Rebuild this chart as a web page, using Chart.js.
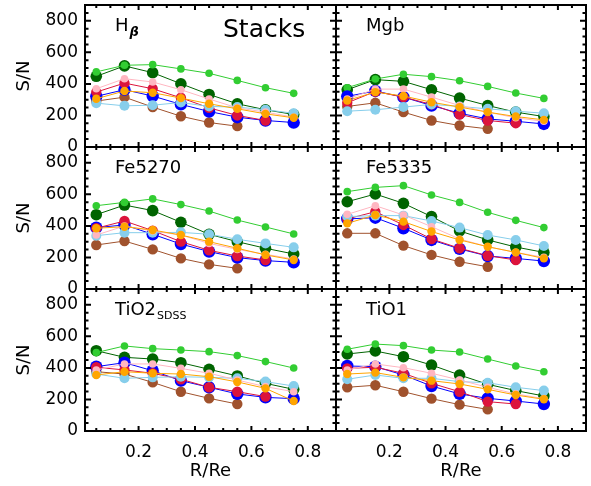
<!DOCTYPE html>
<html>
<head>
<meta charset="utf-8">
<script src="https://cdn.jsdelivr.net/npm/chart.js@4.4.1/dist/chart.umd.min.js"></script>
<style>
  html, body { margin: 0; padding: 0; background: #fff; }
  #wrap { position: relative; width: 591px; height: 486px; }
  #wrap canvas { position: absolute; left: 0; top: 0; }
</style>
</head>
<body>
<div id="wrap"></div>
<script>
// --- Données ---
const R = [0.05, 0.15, 0.25, 0.35, 0.45, 0.55, 0.65, 0.75];
const X_TICKS = [0.2, 0.4, 0.6, 0.8];
const Y_TICKS = [0, 200, 400, 600, 800];

// ordre des panneaux : Hbeta, Mgb, Fe5270, Fe5335, TiO2sdss, TiO1
const SN_LGREEN = [
  [476, 518, 522, 495, 467, 422, 376, 340],
  [376, 431, 461, 446, 420, 384, 342, 308],
  [528, 549, 571, 535, 494, 437, 393, 349],
  [617, 644, 655, 596, 549, 486, 435, 389],
  [497, 539, 522, 513, 503, 478, 440, 399],
  [518, 551, 541, 513, 501, 456, 412, 376]
];
const SN_DGREEN = [
  [448, 514, 471, 401, 333, 274, 236, 206],
  [363, 427, 416, 363, 310, 263, 221, 193],
  [471, 532, 497, 423, 347, 300, 258, 222],
  [553, 602, 543, 459, 368, 311, 266, 232],
  [509, 467, 456, 433, 391, 349, 302, 264],
  [488, 507, 471, 418, 355, 296, 256, 222]
];
const SN_PINK = [
  [369, 433, 412, 363, 304, 248, 221, 189],
  [304, 367, 367, 316, 263, 221, 185, 163],
  [342, 399, 368, 342, 289, 251, 220, 190],
  [473, 528, 469, 395, 317, 268, 232, 201],
  [387, 425, 425, 397, 366, 323, 281, 249],
  [387, 425, 401, 366, 323, 277, 235, 205]
];
const SN_RED = [
  [348, 405, 369, 312, 248, 200, 168],
  [280, 352, 316, 270, 206, 168, 151],
  [385, 431, 370, 300, 245, 209, 184],
  [444, 490, 406, 317, 258, 211, 184],
  [404, 387, 366, 328, 277, 249, 218],
  [397, 404, 366, 302, 249, 186, 171]
];
const SN_BLUE = [
  [321, 363, 323, 270, 225, 189, 168, 155],
  [321, 355, 316, 263, 214, 178, 163, 146],
  [389, 406, 347, 285, 237, 199, 180, 169],
  [444, 452, 385, 311, 254, 209, 194, 177],
  [408, 433, 382, 319, 277, 235, 213, 205],
  [412, 408, 355, 285, 235, 207, 190, 171]
];
const SN_ORANGE = [
  [306, 355, 344, 310, 274, 242, 210, 185],
  [295, 348, 323, 284, 253, 221, 193, 172],
  [385, 395, 374, 342, 300, 258, 216, 184],
  [416, 469, 427, 364, 311, 268, 232, 194],
  [355, 376, 366, 361, 344, 311, 270, 190],
  [361, 370, 340, 319, 298, 264, 228, 201]
];
const SN_LBLUE = [
  [278, 261, 265, 282, 257, 253, 236, 214],
  [227, 236, 253, 270, 257, 242, 227, 214],
  [338, 357, 357, 359, 347, 315, 289, 264],
  [459, 465, 465, 431, 389, 342, 311, 273],
  [361, 334, 340, 344, 340, 334, 313, 285],
  [328, 355, 334, 334, 313, 306, 277, 256]
];
const SN_BROWN = [
  [291, 316, 253, 195, 155, 132],
  [257, 280, 221, 168, 136, 115],
  [279, 304, 251, 194, 156, 131],
  [353, 353, 275, 216, 173, 141],
  [376, 361, 308, 249, 207, 171],
  [277, 290, 249, 205, 167, 137]
];

// du dessous vers le dessus
const SERIES = [
  { vals: SN_BROWN,  color: '#a0522d', r: 5.2 },
  { vals: SN_DGREEN, color: '#006400', r: 5.8 },
  { vals: SN_LGREEN, color: '#32cd32', r: 3.8 },
  { vals: SN_BLUE,   color: '#0000ff', r: 6.2 },
  { vals: SN_RED,    color: '#dc143c', r: 5.2 },
  { vals: SN_LBLUE,  color: '#87ceeb', r: 5 },
  { vals: SN_PINK,   color: '#ffb6c1', r: 3.8 },
  { vals: SN_ORANGE, color: '#ffa500', r: 4.2 }
];

const LABELS = [
  { text: 'H', sub: 'β', subFont: 'bold italic 13px "DejaVu Sans"', subDy: 5 },
  { text: 'Mgb' },
  { text: 'Fe5270' },
  { text: 'Fe5335' },
  { text: 'TiO2', sub: 'SDSS', subFont: '11px "DejaVu Sans"', subDy: 4 },
  { text: 'TiO1' }
];

const FONT = "'DejaVu Sans', sans-serif";
const ROW_TOP = [5, 147, 289];
const ROW_BOT = [147, 289, 431];
const COL_LEFT = [85, 336];
const COL_RIGHT = [336, 586];
const W = 591, H = 486;

// --- Cadre, graduations vers l'intérieur, étiquette du panneau ---
const framePlugin = {
  id: 'frame',
  afterDatasetsDraw(chart, args, opts) {
    const { ctx, chartArea: a, scales: { x, y } } = chart;
    ctx.save();
    ctx.strokeStyle = '#000';
    ctx.lineWidth = 2;
    ctx.beginPath();
    for (let v = 0; v <= 900; v += 50) {
      const py = y.getPixelForValue(v);
      const len = Y_TICKS.includes(v) ? 6 : 3.5;
      ctx.moveTo(a.left, py); ctx.lineTo(a.left + len, py);
      ctx.moveTo(a.right, py); ctx.lineTo(a.right - len, py);
    }
    for (let k = 1; k <= 17; k++) {
      const px = x.getPixelForValue(k * 0.05);
      const len = k % 4 === 0 ? 5 : 3;
      ctx.moveTo(px, a.bottom); ctx.lineTo(px, a.bottom - len);
      ctx.moveTo(px, a.top); ctx.lineTo(px, a.top + len);
    }
    ctx.stroke();
    ctx.strokeRect(a.left, a.top, a.right - a.left, a.bottom - a.top);

    const lab = opts.label;
    if (lab) {
      ctx.fillStyle = '#000';
      ctx.textBaseline = 'alphabetic';
      ctx.font = '18px ' + FONT;
      const tx = a.left + 30, ty = a.top + 26;
      ctx.fillText(lab.text, tx, ty);
      if (lab.sub) {
        const w = ctx.measureText(lab.text).width;
        ctx.font = lab.subFont;
        ctx.fillText(lab.sub, tx + w + 1, ty + lab.subDy);
      }
    }
    if (opts.note) {
      ctx.font = '25px ' + FONT;
      ctx.fillText(opts.note, a.left + 138, a.top + 32);
    }
    ctx.restore();
  }
};

function makePanel(p) {
  const col = p % 2, row = Math.floor(p / 2);
  const canvas = document.createElement('canvas');
  canvas.width = W; canvas.height = H;
  document.getElementById('wrap').appendChild(canvas);

  const n = SERIES.length;
  const datasets = SERIES.map((s, i) => ({
    data: s.vals[p].map((v, j) => ({ x: R[j], y: v })),
    borderColor: s.color,
    backgroundColor: s.color,
    borderWidth: 1,
    pointRadius: s.r,
    pointBorderWidth: 0,
    pointBackgroundColor: s.color,
    order: n - i
  }));

  new Chart(canvas, {
    type: 'line',
    data: { datasets },
    plugins: [framePlugin],
    options: {
      responsive: false,
      animation: false,
      events: [],
      layout: {
        autoPadding: false,
        padding: {
          left: col === 0 ? 0 : COL_LEFT[1],
          right: W - COL_RIGHT[col],
          top: ROW_TOP[row],
          bottom: row === 2 ? 0 : H - ROW_BOT[row]
        }
      },
      plugins: {
        legend: { display: false },
        tooltip: { enabled: false },
        frame: { label: LABELS[p], note: p === 0 ? 'Stacks' : null }
      },
      scales: {
        x: {
          type: 'linear', min: 0.01, max: 0.9,
          grid: { display: false, drawTicks: false },
          border: { display: false },
          afterBuildTicks: s => { s.ticks = X_TICKS.map(v => ({ value: v })); },
          ticks: {
            display: row === 2, padding: 11, color: '#000', maxRotation: 0, autoSkip: false,
            font: { family: FONT, size: 17 },
            callback: v => v.toFixed(1)
          },
          title: {
            display: row === 2, text: 'R/Re', color: '#000',
            font: { family: FONT, size: 18 }, padding: { top: 0, bottom: 4 }
          },
          afterFit: s => { s.height = row === 2 ? H - ROW_BOT[2] : 0; s.paddingLeft = 0; s.paddingRight = 0; }
        },
        y: {
          type: 'linear', min: 0, max: 900,
          grid: { display: false, drawTicks: false },
          border: { display: false },
          afterBuildTicks: s => { s.ticks = Y_TICKS.map(v => ({ value: v })); },
          ticks: {
            display: col === 0, padding: 7, color: '#000',
            font: { family: FONT, size: 17 }
          },
          title: {
            display: col === 0, text: 'S/N', color: '#000',
            font: { family: FONT, size: 18 }, padding: { top: 14, bottom: 0 }
          },
          afterFit: s => { s.width = col === 0 ? COL_LEFT[0] : 0; s.paddingTop = 0; s.paddingBottom = 0; }
        }
      }
    }
  });
}

for (let p = 0; p < 6; p++) makePanel(p);
</script>
</body>
</html>
